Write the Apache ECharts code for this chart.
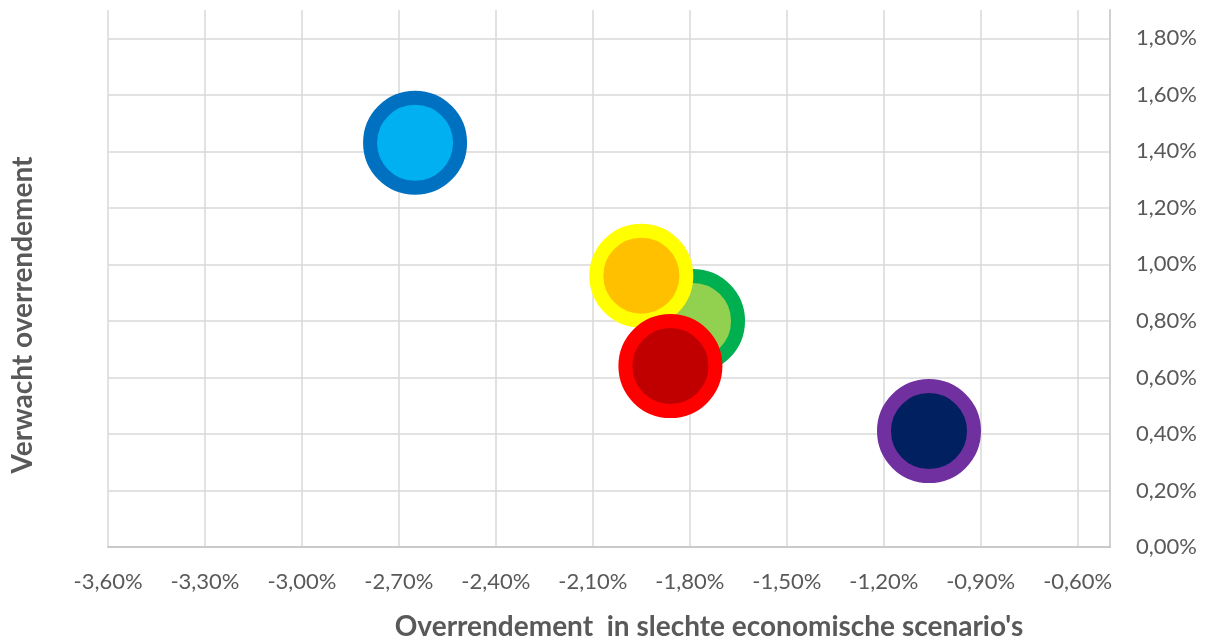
<!DOCTYPE html>
<html>
<head>
<meta charset="utf-8">
<script src="https://cdn.jsdelivr.net/npm/echarts@6/dist/echarts.min.js"></script>
<style>
html,body{margin:0;padding:0;background:#fff;}
#chart{width:1214px;height:643px;}
</style>
</head>
<body>
<div id="chart"></div>
<script>
// Data (values in percent)
const names = ['Blauw', 'Groen', 'Geel', 'Rood', 'Paars'];
const xValues = [-2.65, -1.79, -1.95, -1.86, -1.06];
const yValues = [1.43, 0.80, 0.96, 0.64, 0.41];
const fillColors = ['#00B0F0', '#92D050', '#FFC000', '#C00000', '#002060'];
const borderColors = ['#0070C0', '#00B050', '#FFFF00', '#FF0000', '#7030A0'];
const xTitle = "Overrendement  in slechte economische scenario's";
const yTitle = 'Verwacht overrendement';

const FONT = 'Lato';
const TXT = '#595959';

function pct(v) {
  return v.toFixed(2).replace('.', ',') + '%';
}

const chart = echarts.init(document.getElementById('chart'), null, {renderer: 'canvas'});

const data = names.map((n, i) => ({
  name: n,
  value: [xValues[i], yValues[i]],
  itemStyle: {color: fillColors[i], borderColor: borderColors[i], borderWidth: 14, opacity: 1}
}));

chart.setOption({
  animation: false,
  backgroundColor: '#ffffff',
  grid: {left: 108, right: 104, top: 10, bottom: 96, containLabel: false},
  xAxis: {
    type: 'value',
    min: -3.6, max: -0.5, interval: 0.3,
    axisLine: {show: true, onZero: true, lineStyle: {color: '#C9C9C9', width: 2}},
    axisTick: {show: false},
    splitLine: {show: true, showMaxLine: false, lineStyle: {color: '#D9D9D9', width: 1.5}},
    axisLabel: {
      margin: 24, color: TXT, fontFamily: FONT, fontSize: 22,
      formatter: v => (v > -0.55 ? '' : pct(v))
    }
  },
  yAxis: {
    type: 'value',
    position: 'right',
    min: 0, max: 1.9, interval: 0.2,
    axisLine: {show: true, onZero: false, lineStyle: {color: '#D0D0D0', width: 2}},
    axisTick: {show: false},
    splitLine: {show: true, showMaxLine: false, lineStyle: {color: '#D9D9D9', width: 1.5}},
    axisLabel: {
      margin: 26, color: TXT, fontFamily: FONT, fontSize: 22,
      formatter: v => (v > 1.85 ? '' : pct(v))
    }
  },
  graphic: [
    {
      type: 'text', x: 709, y: 627,
      style: {text: xTitle, fill: TXT, font: 'bold 28px ' + FONT, textAlign: 'center', textVerticalAlign: 'middle'}
    },
    {
      type: 'text', x: 23, y: 315, rotation: Math.PI / 2,
      style: {text: yTitle, fill: TXT, font: 'bold 28px ' + FONT, textAlign: 'center', textVerticalAlign: 'middle'}
    }
  ],
  series: [{
    type: 'scatter',
    symbol: 'circle',
    symbolSize: 90,
    data: data,
    emphasis: {disabled: true}
  }]
});
</script>
</body>
</html>
